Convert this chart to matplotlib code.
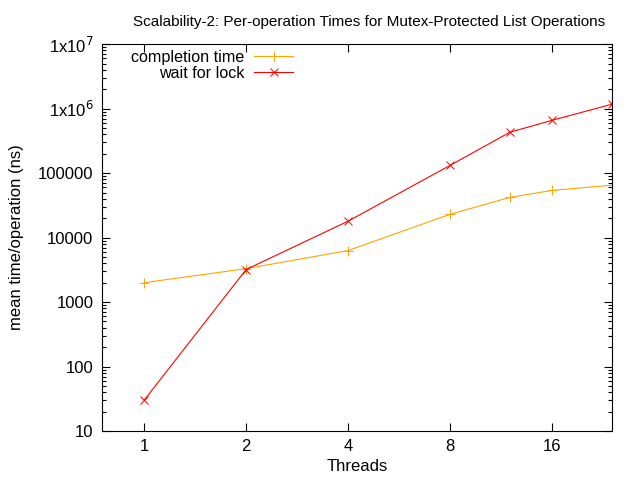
import numpy as np
import matplotlib
matplotlib.use("Agg")
import matplotlib.pyplot as plt
from matplotlib.ticker import FixedLocator, FixedFormatter, LogLocator, NullFormatter

plt.rcParams['font.family'] = ['Liberation Sans', 'DejaVu Sans']

threads = [1, 2, 4, 8, 12, 16, 24]
completion_time = [2000, 3300, 6300, 23000, 42000, 54000, 65000]
wait_for_lock = [30, 3200, 18000, 132000, 430000, 660000, 1170000]

x_ticks = [1, 2, 4, 8, 16]
y_ticks = [10, 100, 1000, 10000, 100000, 1e6, 1e7]
y_labels = ["10", "100", "1000", "10000", "100000", r"1x10$^{6}$", r"1x10$^{7}$"]

fig = plt.figure(figsize=(6.4, 4.8), dpi=100)
ax = fig.add_axes([0.159, 0.102, 0.797, 0.806])

ax.plot(threads, completion_time, color="#ffa500", lw=0.8, marker="+", ms=7, mew=0.7,
        label="completion time")
ax.plot(threads, wait_for_lock, color="#ff0000", lw=0.8, marker="x", ms=5.5, mew=0.7,
        label="wait for lock")

ax.set_xscale("log", base=2)
ax.set_yscale("log")
ax.set_xlim(0.75, 24)
ax.set_ylim(10, 1e7)

ax.xaxis.set_major_locator(FixedLocator(x_ticks))
ax.xaxis.set_major_formatter(FixedFormatter([str(v) for v in x_ticks]))
ax.xaxis.set_minor_locator(FixedLocator([]))
ax.yaxis.set_major_locator(FixedLocator(y_ticks))
ax.yaxis.set_major_formatter(FixedFormatter(y_labels))
ax.yaxis.set_minor_locator(LogLocator(base=10, subs=np.arange(2, 10)))
ax.yaxis.set_minor_formatter(NullFormatter())

ax.tick_params(which="both", direction="in", top=True, right=True, labelsize=12, pad=6)
ax.tick_params(which="major", length=6, width=0.8)
ax.tick_params(which="minor", length=3, width=0.8)
for s in ax.spines.values():
    s.set_linewidth(0.8)

ax.set_xlabel("Threads", fontsize=12, labelpad=3)
ax.set_ylabel("mean time/operation (ns)", fontsize=12, labelpad=10)
ax.set_title("Scalability-2: Per-operation Times for Mutex-Protected List Operations",
             fontsize=11, pad=13, x=0.525)

leg = ax.legend(loc="upper right", bbox_to_anchor=(0.375, 0.985), frameon=False, fontsize=11.6,
                markerfirst=False, handlelength=2.4, handletextpad=0.6, labelspacing=0.05,
                borderaxespad=0.0, borderpad=0.0)
for t in leg.get_texts():
    t.set_ha("right")

fig.savefig("out.png", dpi=100)
